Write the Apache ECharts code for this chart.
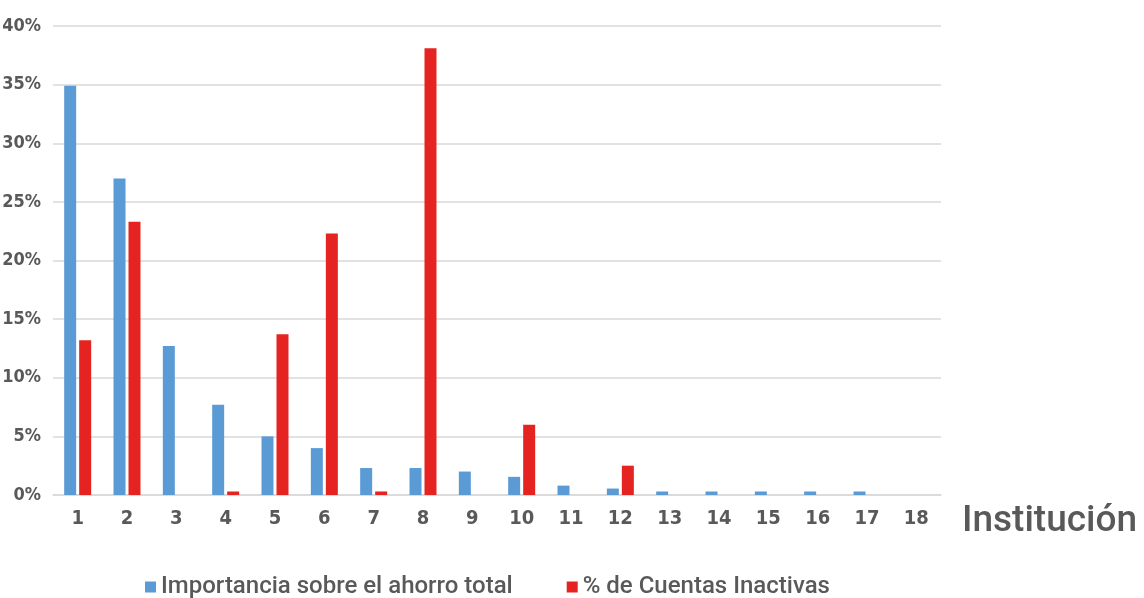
<!DOCTYPE html>
<html>
<head>
<meta charset="utf-8">
<script src="https://cdn.jsdelivr.net/npm/echarts@6/dist/echarts.min.js"></script>
<style>
  html, body { margin: 0; padding: 0; background: #fff; }
  #chart { width: 1144px; height: 598px; }
</style>
</head>
<body>
<div id="chart"></div>
<script>
// Institutions 1..18
const categories = ['1','2','3','4','5','6','7','8','9','10','11','12','13','14','15','16','17','18'];
// Share of total savings (%)
const importancia = [34.9, 27.0, 12.7, 7.7, 5.0, 4.0, 2.3, 2.3, 2.0, 1.55, 0.8, 0.55, 0.3, 0.3, 0.3, 0.3, 0.3, 0];
// Share of inactive accounts (%)
const inactivas = [13.2, 23.3, 0, 0.3, 13.7, 22.3, 0.3, 38.1, 0, 6.0, 0, 2.5, 0, 0, 0, 0, 0, 0];
// Y-axis ticks (%)
const yTicks = [0, 5, 10, 15, 20, 25, 30, 35, 40];

const tickFont = "'DejaVu Sans Condensed', 'Liberation Sans Narrow', sans-serif";
const textFont = "Roboto, 'Noto Sans', sans-serif";
const grey = '#595959';

const chart = echarts.init(document.getElementById('chart'));
chart.setOption({
  animation: false,
  backgroundColor: '#fff',
  grid: { left: 53, right: 203, top: 26, bottom: 103, containLabel: false, outerBoundsMode: 'none' },
  legend: {
    top: 570,
    left: 140,
    itemWidth: 11,
    itemHeight: 11,
    itemGap: 54,
    icon: 'rect',
    textStyle: { fontFamily: textFont, fontSize: 24, fontWeight: 500, color: grey, padding: [0, 0, 0, 0] },
    data: ['Importancia sobre el ahorro total', '% de Cuentas Inactivas']
  },
  xAxis: {
    type: 'category',
    data: categories,
    name: 'Institución',
    nameLocation: 'end',
    nameGap: 21,
    nameTextStyle: {
      fontFamily: textFont, fontSize: 37, fontWeight: 500, color: grey,
      verticalAlign: 'top', padding: [8, 0, 0, 0]
    },
    axisLine: { lineStyle: { color: '#d9d9d9', width: 1.5 } },
    axisTick: { show: false },
    axisLabel: {
      fontFamily: tickFont, fontWeight: 'bold', fontSize: 20, color: grey, margin: 14
    }
  },
  yAxis: {
    type: 'value',
    min: yTicks[0],
    max: yTicks[yTicks.length - 1],
    interval: yTicks[1] - yTicks[0],
    axisLine: { show: false },
    axisTick: { show: false },
    splitLine: { lineStyle: { color: '#d9d9d9', width: 1.5 } },
    axisLabel: {
      fontFamily: tickFont, fontWeight: 'bold', fontSize: 18, color: grey, margin: 12,
      formatter: '{value}%'
    }
  },
  series: [
    {
      name: 'Importancia sobre el ahorro total',
      type: 'bar',
      data: importancia,
      barWidth: 12,
      barGap: '25%',
      itemStyle: { color: '#5B9BD5' }
    },
    {
      name: '% de Cuentas Inactivas',
      type: 'bar',
      data: inactivas,
      barWidth: 12,
      barGap: '25%',
      itemStyle: { color: '#E52421' }
    }
  ]
});
</script>
</body>
</html>
